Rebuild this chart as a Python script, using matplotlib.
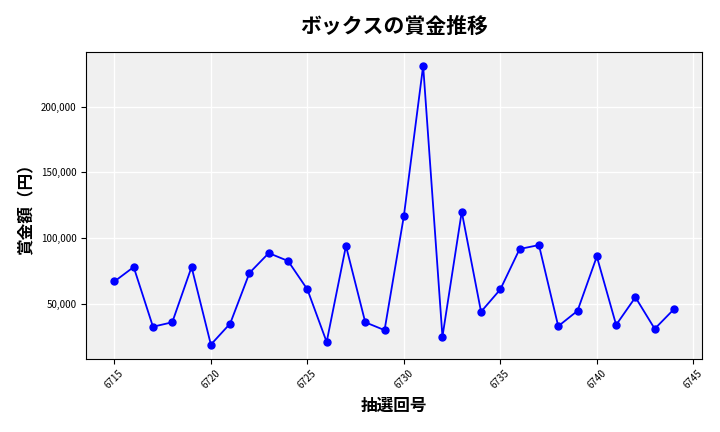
import matplotlib
matplotlib.use("Agg")
import matplotlib.pyplot as plt
from matplotlib.ticker import FuncFormatter

plt.rcParams["font.family"] = ["Noto Sans CJK JP", "DejaVu Sans"]

draws = list(range(6715, 6745))
prizes = [67000, 78000, 32600, 36000, 78000, 19000, 35000, 73500, 88600, 82600,
          61000, 21000, 94000, 36000, 30000, 116700, 231000, 25000, 120000, 44000,
          61000, 91700, 94700, 33000, 44700, 86000, 34000, 55000, 31000, 46000]

fig, ax = plt.subplots(figsize=(7.2, 4.32), dpi=100)
ax.set_facecolor("#f0f0f0")
ax.grid(True, color="white", linewidth=1)
ax.set_axisbelow(True)
ax.plot(draws, prizes, color="blue", marker="o", markersize=5, linewidth=1.3)
ax.set_title("ボックスの賞金推移", fontsize=15, fontweight="bold", pad=14)
ax.set_xlabel("抽選回号", fontsize=12, fontweight="bold")
ax.set_ylabel("賞金額（円）", fontsize=12, fontweight="bold")
ax.yaxis.set_major_formatter(FuncFormatter(lambda v, p: f"{int(v):,}"))
ax.tick_params(axis="both", labelsize=7)
ax.set_xticks(range(6715, 6746, 5))
plt.setp(ax.get_xticklabels(), rotation=45)
fig.subplots_adjust(left=0.12, right=0.975, top=0.88, bottom=0.17)
fig.savefig("out.png", dpi=100)
